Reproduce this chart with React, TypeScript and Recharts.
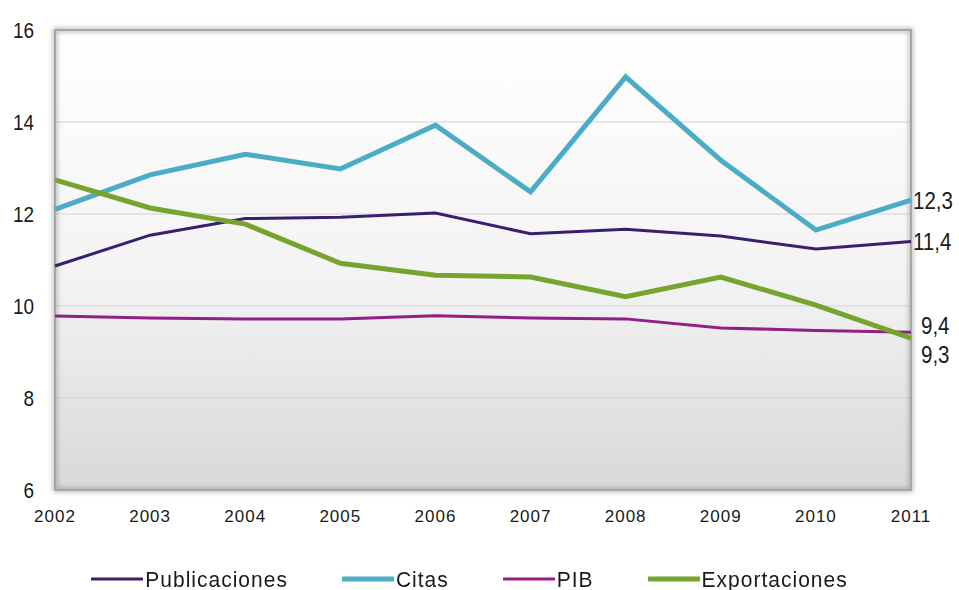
import React from 'react';
import { LineChart, Line, XAxis, YAxis, CartesianGrid, ReferenceArea, Legend, LabelList } from 'recharts';

const years = ['2002', '2003', '2004', '2005', '2006', '2007', '2008', '2009', '2010', '2011'];
const publicaciones = [10.87, 11.54, 11.9, 11.93, 12.02, 11.57, 11.67, 11.52, 11.24, 11.4];
const citas = [12.1, 12.85, 13.3, 12.98, 13.93, 12.48, 14.98, 13.17, 11.65, 12.3];
const pib = [9.78, 9.74, 9.72, 9.72, 9.79, 9.74, 9.72, 9.52, 9.47, 9.43];
const exportaciones = [12.74, 12.13, 11.78, 10.93, 10.67, 10.63, 10.2, 10.63, 10.02, 9.3];
const endLabels = ['11,4', '12,3', '9,4', '9,3'];
const yTicks = [6, 8, 10, 12, 14, 16];

const data = years.map((y, i) => ({
  year: y,
  Publicaciones: publicaciones[i],
  Citas: citas[i],
  PIB: pib[i],
  Exportaciones: exportaciones[i],
}));

const series = [
  { key: 'Publicaciones', color: '#3c1e6e', width: 3, label: endLabels[0], dx: 2, dy: 0 },
  { key: 'Citas', color: '#4bacc6', width: 5, label: endLabels[1], dx: 2, dy: 0 },
  { key: 'PIB', color: '#931e86', width: 3, label: endLabels[2], dx: 10, dy: -7 },
  { key: 'Exportaciones', color: '#77a32f', width: 5, label: endLabels[3], dx: 10, dy: 16 },
];

const SANS = "'Liberation Sans', Arial, sans-serif";

const makeLabel = (text: string, dx: number, dy: number) => (props: any) => {
  const { x, y, index } = props;
  if (index !== years.length - 1) return null;
  return (
    <g transform={`translate(${x + dx},${y + dy}) scale(1,1.16)`}>
      <text x={0} y={0} dy="0.36em" fontSize={20.5} fontFamily={SANS} fill="#1a1a1a" textAnchor="start">
        {text}
      </text>
    </g>
  );
};

const YTick = (props: any) => {
  const { x, y, payload } = props;
  return (
    <g transform={`translate(${x},${y}) scale(1,1.2)`}>
      <text x={0} y={0} dy="0.36em" fontSize={19} fontFamily={SANS} fill="#1a1a1a" textAnchor="end">
        {payload.value}
      </text>
    </g>
  );
};

const LegendContent = () => (
  <div
    style={{
      display: 'flex',
      justifyContent: 'center',
      alignItems: 'center',
      gap: 54,
      paddingRight: 20,
      fontFamily: SANS,
      fontSize: 21,
      letterSpacing: 1,
      color: '#1a1a1a',
      lineHeight: '24px',
    }}
  >
    {series.map((s) => (
      <div key={s.key} style={{ display: 'flex', alignItems: 'center' }}>
        <svg width={52} height={10} style={{ marginRight: 2 }}>
          <line x1={1} y1={5} x2={51} y2={5} stroke={s.color} strokeWidth={s.width} strokeLinecap="round" />
        </svg>
        <span style={{ display: 'inline-block', transform: 'scaleY(1.08)' }}>{s.key}</span>
      </div>
    ))}
  </div>
);

export default function App() {
  return (
    <div style={{ position: 'absolute', left: 0, top: 0, width: 959, height: 590, background: '#fff' }}>
      <LineChart width={959} height={590} data={data} margin={{ top: 30, right: 48, bottom: 0, left: 10 }}>
        <defs>
          <linearGradient id="plotGrad" x1="0" y1="0" x2="0" y2="1">
            <stop offset="0" stopColor="#ffffff" />
            <stop offset="0.55" stopColor="#f3f3f3" />
            <stop offset="1" stopColor="#d8d8d8" />
          </linearGradient>
          <filter id="blurShadow" x="-5%" y="-5%" width="110%" height="110%">
            <feGaussianBlur stdDeviation="2.5" />
          </filter>
        </defs>
        <CartesianGrid
          vertical={false}
          stroke="#d3d3d3"
          strokeWidth={1}
          fill="url(#plotGrad)"
          fillOpacity={1}
          horizontalValues={[8, 10, 12, 14]}
        />
        <ReferenceArea
          x1="2002"
          x2="2011"
          y1={6}
          y2={16}
          fill="none"
          stroke="#7f7f7f"
          strokeWidth={4}
          strokeOpacity={0.6}
          filter="url(#blurShadow)"
          ifOverflow="visible"
        />
        <ReferenceArea
          x1="2002"
          x2="2011"
          y1={6}
          y2={16}
          fill="none"
          stroke="#a6a6a6"
          strokeWidth={2}
          ifOverflow="visible"
        />
        <XAxis
          dataKey="year"
          axisLine={false}
          tickLine={false}
          tickMargin={14}
          tick={{ fontSize: 17, fontFamily: SANS, fill: '#1a1a1a', letterSpacing: 1 }}
          interval={0}
          height={45}
        />
        <YAxis
          domain={[6, 16]}
          ticks={yTicks}
          axisLine={false}
          tickLine={false}
          tickSize={0}
          tickMargin={21}
          width={45}
          tick={<YTick />}
        />
        <Legend
          verticalAlign="bottom"
          align="center"
          height={55}
          content={() => <LegendContent />}
          wrapperStyle={{ top: 567, left: 0, width: 959 }}
        />
        {series.map((s) => (
          <Line
            key={s.key}
            type="linear"
            dataKey={s.key}
            stroke={s.color}
            strokeWidth={s.width}
            dot={false}
            activeDot={false}
            isAnimationActive={false}
          >
            <LabelList dataKey={s.key} content={makeLabel(s.label, s.dx, s.dy)} />
          </Line>
        ))}
      </LineChart>
    </div>
  );
}
